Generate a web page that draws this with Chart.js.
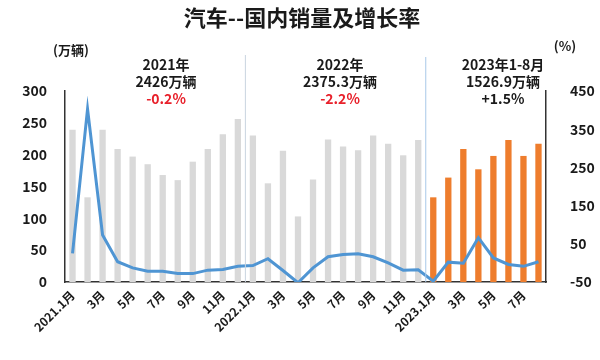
<!DOCTYPE html>
<html>
<head>
<meta charset="utf-8">
<script src="https://cdn.jsdelivr.net/npm/chart.js@4"></script>
<style>
  body { margin: 0; background: #fff; }
  #wrap { width: 600px; height: 360px; position: relative; }
</style>
</head>
<body>
<div id="wrap"><canvas id="myChart"></canvas></div>
<script>
// months 2021.1 - 2023.8
const months = [
  '2021.1月', '2月', '3月', '4月', '5月', '6月', '7月', '8月', '9月', '10月', '11月', '12月',
  '2022.1月', '2月', '3月', '4月', '5月', '6月', '7月', '8月', '9月', '10月', '11月', '12月',
  '2023.1月', '2月', '3月', '4月', '5月', '6月', '7月', '8月'
];
// sales, 万辆 (left axis)
const sales = [
  239, 133, 239, 209, 197, 185, 168, 160, 189, 209, 232, 256,
  230, 155, 206, 103, 161, 224, 213, 207, 230, 217, 199, 223,
  133, 164, 209, 177, 198, 223, 198, 217
];
// growth, % (right axis)
const growth = [
  25, 403, 73, 3, -13, -22, -22, -28, -28, -19, -17, -9,
  -7, 11, -20, -52, -13, 16, 22, 24, 16, 0, -19, -18,
  -48, 2, -1, 66, 13, -4, -9, 3
];
const leftTicks = [0, 50, 100, 150, 200, 250, 300];
const rightTicks = [-50, 50, 150, 250, 350, 450];
const notes = [
  { lines: ['2021年', '2426万辆', '-0.2%'], x: 166, red: true },
  { lines: ['2022年', '2375.3万辆', '-2.2%'], x: 340, red: true },
  { lines: ['2023年1-8月', '1526.9万辆', '+1.5%'], x: 503, red: false }
];

const font = '"Noto Sans CJK SC", "Noto Sans", sans-serif';
const barColors = months.map((m, i) => i >= 24 ? '#ee7d2d' : '#d9d9d9');

// title, units, year notes and separators
const extras = {
  id: 'extras',
  afterDraw(chart) {
    const c = chart.ctx;
    const xs = chart.scales.x;
    const bottom = chart.chartArea.bottom;
    c.save();
    c.textAlign = 'center';
    c.textBaseline = 'middle';
    c.fillStyle = '#1a1a1a';
    c.font = 'bold 22px ' + font;
    c.fillText('汽车--国内销量及增长率', 302, 18);
    c.font = 'bold 13px ' + font;
    c.fillText('(万辆)', 71, 50);
    c.fillText('(%)', 565, 46);

    // separators between years
    [[11, 55, '#c9d4e0'], [23, 57, '#a9c8e8']].forEach(s => {
      const x = (xs.getPixelForValue(s[0]) + xs.getPixelForValue(s[0] + 1)) / 2;
      c.strokeStyle = s[2];
      c.lineWidth = 1;
      c.beginPath();
      c.moveTo(x, s[1]);
      c.lineTo(x, bottom);
      c.stroke();
    });

    c.font = 'bold 14px ' + font;
    notes.forEach(n => {
      n.lines.forEach((t, i) => {
        c.fillStyle = (i === 2 && n.red) ? '#e8202a' : '#1a1a1a';
        c.fillText(t, n.x, 65 + i * 17);
      });
    });
    c.restore();
  }
};

const ctx = document.getElementById('myChart').getContext('2d');
const myChart = new Chart(ctx, {
  data: {
    labels: months,
    datasets: [
      {
        type: 'line',
        label: '增长率',
        data: growth,
        yAxisID: 'y1',
        borderColor: '#4f95d3',
        borderWidth: 3,
        pointRadius: 0,
        tension: 0,
        order: 0
      },
      {
        type: 'bar',
        label: '销量',
        data: sales,
        yAxisID: 'y',
        backgroundColor: barColors,
        barPercentage: 0.42,
        categoryPercentage: 1,
        order: 1
      }
    ]
  },
  options: {
    responsive: true,
    maintainAspectRatio: false,
    animation: false,
    layout: { padding: { top: 91, left: 0, right: 0, bottom: 0 } },
    plugins: { legend: { display: false }, tooltip: { enabled: false } },
    scales: {
      x: {
        grid: { display: false, drawTicks: false },
        border: { color: '#333', width: 1.5 },
        ticks: {
          autoSkip: false,
          maxRotation: 45,
          minRotation: 45,
          padding: 6,
          color: '#1a1a1a',
          font: { family: font, size: 12, weight: 'bold' },
          callback: function (v, i) { return i % 2 === 0 ? this.getLabelForValue(v) : ''; }
        },
        afterFit: s => { s.height = 78; }
      },
      y: {
        position: 'left',
        min: 0,
        max: 300,
        afterBuildTicks: s => { s.ticks = leftTicks.map(v => ({ value: v })); },
        grid: { display: false, drawTicks: false },
        border: { color: '#333', width: 1.5 },
        ticks: {
          padding: 18,
          color: '#1a1a1a',
          font: { family: font, size: 14, weight: 'bold' }
        },
        afterFit: s => { s.width = 65; }
      },
      y1: {
        position: 'right',
        min: -50,
        max: 450,
        afterBuildTicks: s => { s.ticks = rightTicks.map(v => ({ value: v })); },
        grid: { display: false, drawTicks: false },
        border: { color: '#333', width: 1.5 },
        ticks: {
          padding: 24,
          color: '#1a1a1a',
          font: { family: font, size: 14, weight: 'bold' }
        },
        afterFit: s => { s.width = 54; }
      }
    }
  },
  plugins: [extras]
});
</script>
</body>
</html>
